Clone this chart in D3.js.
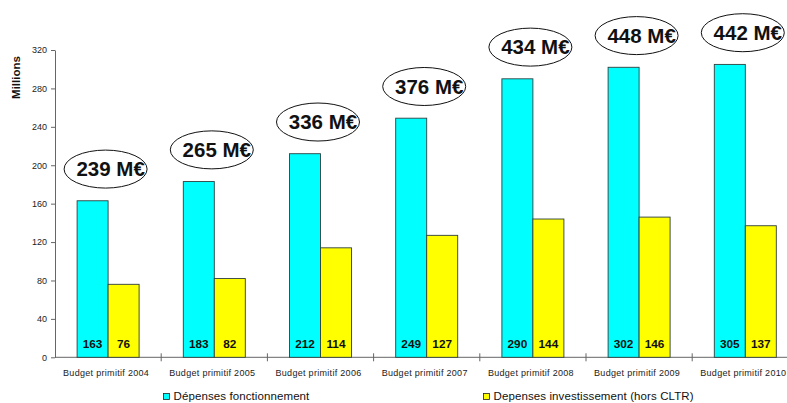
<!DOCTYPE html>
<html><head><meta charset="utf-8">
<script src="https://cdn.jsdelivr.net/npm/d3@7"></script>
<style>body{margin:0;background:#fff;}svg{display:block;font-family:"Liberation Sans",Arial,sans-serif;}svg text{font-family:"Liberation Sans",Arial,sans-serif;}</style>
</head><body>
<script>
const categories = ["Budget primitif 2004","Budget primitif 2005","Budget primitif 2006","Budget primitif 2007","Budget primitif 2008","Budget primitif 2009","Budget primitif 2010"];
const seriesNames = ["Dépenses fonctionnement","Depenses investissement (hors CLTR)"];
const fonctionnement = [163,183,212,249,290,302,305];
const investissement = [76,82,114,127,144,146,137];
const totals = [239,265,336,376,434,448,442];
const yTicks = [0,40,80,120,160,200,240,280,320];
const colors = ["#00FFFF","#FFFF00"];

const W=787,H=403;
const svg=d3.select("body").append("svg").attr("width",W).attr("height",H);
const x0=d3.scaleBand().domain(categories).range([55,798.4]).padding(0);
const x1=d3.scaleBand().domain(seriesNames).range([0,x0.bandwidth()]).paddingInner(0).paddingOuter(0.713);
const y=d3.scaleLinear().domain([0,320]).range([357.3,50]);

// y axis
const ya=svg.append("g").attr("transform","translate(55,0)")
  .call(d3.axisLeft(y).tickValues(yTicks).tickSize(4).tickSizeOuter(0).tickPadding(4));
ya.attr("font-family",null);
ya.select(".domain").attr("stroke","#666");
ya.selectAll(".tick line").attr("stroke","#666");
ya.selectAll(".tick text").attr("font-size","9px").attr("fill","#222");

// x axis
svg.append("line").attr("x1",55).attr("x2",W).attr("y1",y(0)).attr("y2",y(0)).attr("stroke","#666");
categories.forEach(c=>{
  const xx=x0(c)+x0.bandwidth();
  svg.append("line").attr("x1",xx).attr("x2",xx).attr("y1",y(0)-4).attr("y2",y(0)+4).attr("stroke","#666");
});
svg.append("g").selectAll("text").data(categories).join("text")
  .attr("x",d=>x0(d)+x0.bandwidth()/2-2).attr("y",376)
  .attr("text-anchor","middle").attr("font-size","9px").attr("letter-spacing","0.3px").attr("fill","#222").text(d=>d);

// bars
const data=categories.map((c,i)=>({c,vals:[fonctionnement[i],investissement[i]],total:totals[i]}));
const g=svg.append("g").selectAll("g").data(data).join("g").attr("transform",d=>`translate(${x0(d.c)},0)`);
g.selectAll("rect").data(d=>d.vals.map((v,j)=>({v,s:seriesNames[j],j}))).join("rect")
  .attr("x",d=>x1(d.s)).attr("width",x1.bandwidth())
  .attr("y",d=>y(d.v)).attr("height",d=>y(0)-y(d.v))
  .attr("fill",d=>colors[d.j]).attr("stroke","#2f3f3f").attr("stroke-width",0.9);
g.selectAll("text.val").data(d=>d.vals.map((v,j)=>({v,s:seriesNames[j]}))).join("text")
  .attr("class","val").attr("x",d=>x1(d.s)+x1.bandwidth()/2).attr("y",347.8)
  .attr("text-anchor","middle").attr("font-size","11.8px").attr("font-weight","bold").attr("fill","#111").text(d=>d.v);

// total ellipses
const ann=g.append("g").attr("transform",d=>`translate(${x0.bandwidth()/2-2.5},${y(Math.min(d.vals[0]+33,338))})`);
ann.append("ellipse").attr("rx",41.5).attr("ry",19).attr("fill","#fff").attr("stroke","#111").attr("stroke-width",1);
ann.append("text").attr("x",5).attr("y",7.3).attr("text-anchor","middle")
  .attr("font-size","20.5px").attr("font-weight","bold").attr("fill","#111").text(d=>d.total+" M€");

// Millions
svg.append("text").attr("transform","translate(19.5,77.5) rotate(-90)").attr("text-anchor","middle")
  .attr("font-size","11.5px").attr("font-weight","bold").attr("fill","#111").text("Millions");

// legend
const leg=[{x:163.5,tx:173.5},{x:483.5,tx:493.5}];
leg.forEach((l,i)=>{
  svg.append("rect").attr("x",l.x).attr("y",393.5).attr("width",6).attr("height",6)
    .attr("fill",colors[i]).attr("stroke","#222").attr("stroke-width",0.8);
  svg.append("text").attr("x",l.tx).attr("y",400).attr("font-size","11.5px").attr("letter-spacing","0.1px").attr("fill","#111").text(seriesNames[i]);
});
</script>
</body></html>
